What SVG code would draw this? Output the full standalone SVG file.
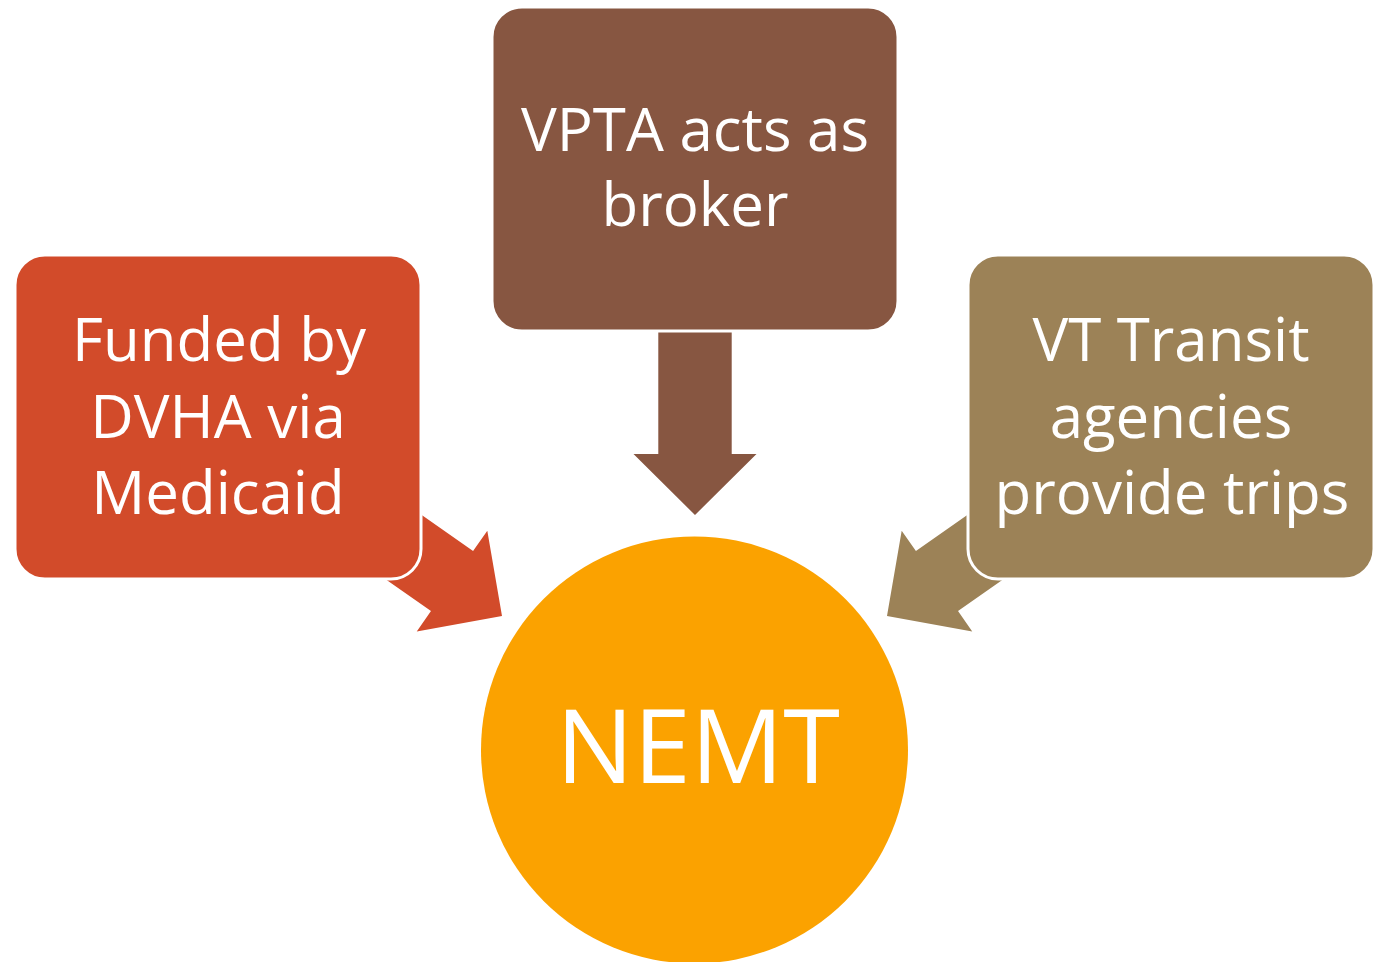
<svg xmlns="http://www.w3.org/2000/svg" width="1384" height="962" viewBox="0 0 1384 962">
<style>
.box{stroke:#ffffff;stroke-width:3}
.t{font-family:"Open Sans","Noto Sans","Liberation Sans",sans-serif;fill:#ffffff;text-anchor:middle;font-size:60px}
.big{font-size:103px}
</style>
<defs>
<path id="arr" d="M0,0 L-61.5,-61 L-36.7,-61 L-36.7,-185 L36.7,-185 L36.7,-61 L61.5,-61 Z"/>
</defs>
<rect width="1384" height="962" fill="#ffffff"/>
<g id="connectors">
<use href="#arr" transform="translate(695,515)" fill="#875641"/>
<use href="#arr" transform="translate(502,616) rotate(-55)" fill="#D24B2A"/>
<use href="#arr" transform="translate(887,616) rotate(55)" fill="#9C8257"/>
</g>
<g id="node-top">
<rect class="box" x="492" y="7" width="406" height="324" rx="30" fill="#875641"/>
<text class="t" x="695" y="151">VPTA acts as</text>
<text class="t" x="695" y="226">broker</text>
</g>
<g id="node-left">
<rect class="box" x="15" y="255" width="406" height="324" rx="30" fill="#D24B2A"/>
<text class="t" x="219" y="361">Funded by</text>
<text class="t" x="218" y="438">DVHA via</text>
<text class="t" x="218" y="514">Medicaid</text>
</g>
<g id="node-right">
<rect class="box" x="968" y="255" width="406" height="324" rx="30" fill="#9C8257"/>
<text class="t" x="1171" y="361">VT Transit</text>
<text class="t" x="1171" y="438">agencies</text>
<text class="t" x="1172" y="514">provide trips</text>
</g>
<g id="node-center">
<circle cx="694.5" cy="750" r="213.5" fill="#FBA200"/>
<text class="t big" x="698" y="783">NEMT</text>
</g>
</svg>
